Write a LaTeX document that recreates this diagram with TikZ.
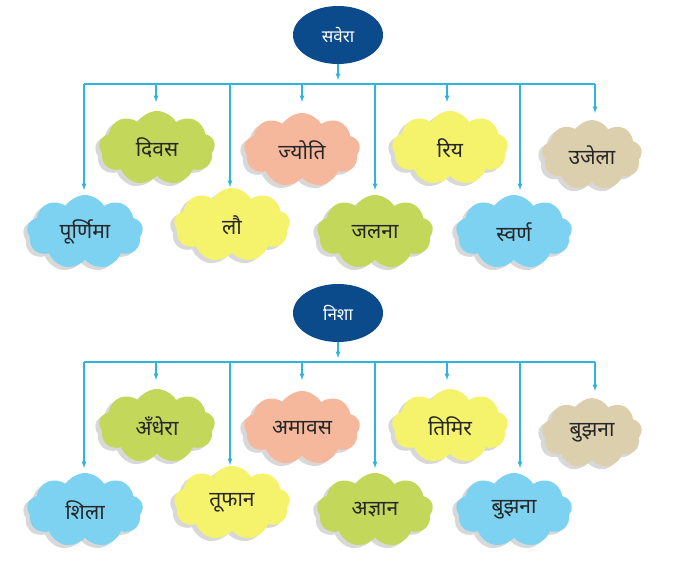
\documentclass[tikz,border=0pt]{standalone}
\usepackage{fontspec}
\newfontfamily\deva[Script=Devanagari]{Noto Sans}
\usetikzlibrary{shapes.symbols,shapes.geometric,shadows}
\definecolor{navy}{HTML}{0B4A8B}
\definecolor{wire}{HTML}{2FB3DF}
\definecolor{cgreen}{HTML}{C3D85A}
\definecolor{csalmon}{HTML}{F6B89C}
\definecolor{cyellow}{HTML}{F5F26B}
\definecolor{ctan}{HTML}{DCCFAD}
\definecolor{cblue}{HTML}{7DD2F1}
\tikzset{
  cloudbox/.style={cloud, cloud puffs=9, cloud puff arc=120, aspect=1.6,
    minimum width=116pt, minimum height=74pt, inner sep=0pt,
    drop shadow={shadow xshift=-4pt, shadow yshift=-3pt, fill=gray!60},
    font=\deva\fontsize{21}{24}\selectfont, text=black!85},
  head/.style={ellipse, fill=navy, text=white, minimum width=90pt,
    minimum height=58pt, font=\deva\fontsize{17}{20}\selectfont},
  link/.style={wire, line width=1.2pt, -latex}
}
\begin{document}
\begin{tikzpicture}[x=1pt,y=-1pt]
  \useasboundingbox (0,0) rectangle (692,563);

  % two trees, second one shifted down
  \foreach \dy/\root/\ta/\tb/\tc/\td/\te/\tf/\tg/\th in {%
      0/सवेरा/दिवस/ज्योति/रिय/उजेला/पूर्णिमा/लौ/जलना/स्वर्ण,
      278/निशा/अँधेरा/अमावस/तिमिर/बुझना/शिला/तूफान/अज्ञान/बुझना} {
    \begin{scope}[yshift=-\dy pt]
      \node[head] (root) at (338,35) {\root};
      \coordinate (bar) at (338,80);
      \draw[link] (root.south) -- (bar);
      \draw[wire, line width=1.2pt] (84,84) -- (595,84);

      % upper clouds
      \node[cloudbox, fill=cgreen] (ua) at (157,148) {\ta};
      \node[cloudbox, fill=csalmon] (ub) at (302,150) {\tb};
      \node[cloudbox, fill=cyellow] (uc) at (450,148) {\tc};
      \node[cloudbox, fill=ctan, minimum width=100pt, minimum height=70pt] (ud) at (592,155) {\td};
      % lower clouds
      \node[cloudbox, fill=cblue] (la) at (85,232) {\te};
      \node[cloudbox, fill=cyellow] (lb) at (232,225) {\tf};
      \node[cloudbox, fill=cgreen] (lc) at (375,232) {\tg};
      \node[cloudbox, fill=cblue] (ld) at (514,232) {\th};

      \foreach \n/\x/\y in {ua/156/102, ub/302/102, uc/447/102, ud/595/113,
                            la/84/190, lb/230/187, lc/375/190, ld/520/190} {
        \coordinate (\n top) at (\x,\y);
        \draw[link] (\x,84) -- (\n top);
      }
    \end{scope}
  }
\end{tikzpicture}
\end{document}
